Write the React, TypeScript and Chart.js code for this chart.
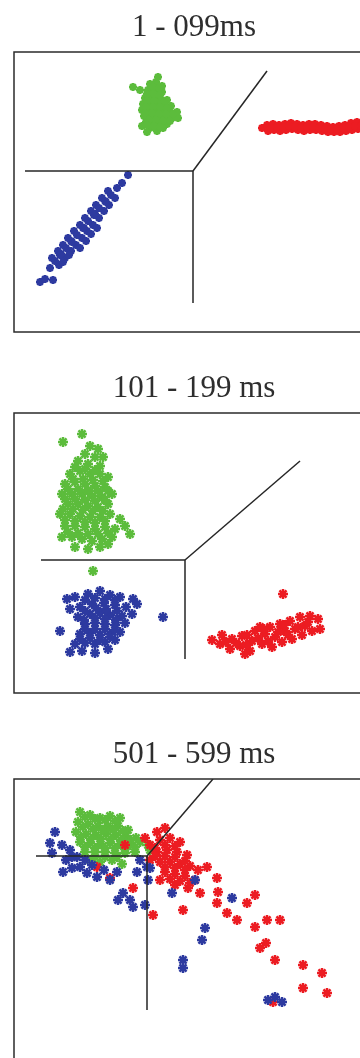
import React, { useEffect, useRef } from "react";
import { Chart, registerables } from "chart.js";

Chart.register(...registerables);

type P = [number, number];

// Panel titles (time windows)
const titles = ["1 - 099ms", "101 - 199 ms", "501 - 599 ms"];

// Shared axis ranges (feature space units)
const xRange: P = [0, 36];
const yRange: P = [0, 28];

// Class colours
const GREEN = "#5cbc3c";
const RED = "#ec1c22";
const BLUE = "#2d3aa0";
const LINE = "#262626";

// ---------- 1 - 099 ms ----------
const green1: P[] = [
  [13.6, 24.8], [14.2, 25.0], [14.8, 24.6], [13.4, 24.2], [14.1, 24.2], [14.8, 24.0], [14.4, 25.5],
  [11.9, 24.5], [12.6, 24.2], [13.1, 23.4], [13.8, 23.4], [14.6, 23.4], [15.3, 23.2], [12.9, 22.8],
  [13.6, 22.8], [14.3, 22.8], [15.0, 22.6], [15.7, 22.6], [12.8, 22.2], [13.5, 22.2], [14.2, 22.2],
  [14.9, 22.0], [15.6, 22.0], [16.3, 22.0], [13.0, 21.6], [13.7, 21.6], [14.4, 21.5], [15.1, 21.4],
  [15.8, 21.4], [16.4, 21.4], [13.2, 21.0], [13.9, 20.9], [14.6, 20.8], [15.3, 20.8], [12.8, 20.6],
  [13.6, 20.4], [14.3, 20.1], [14.9, 20.4], [14.0, 23.8], [14.7, 23.0], [13.3, 20.0],
  [13.9, 24.5], [14.5, 24.4], [13.3, 23.8], [14.6, 23.7], [13.3, 23.1], [14.0, 23.1], [15.0, 23.0],
  [13.2, 22.5], [13.9, 22.5], [14.6, 22.5], [15.3, 22.4], [13.1, 21.9], [13.8, 21.9], [14.5, 21.8],
  [15.2, 21.8], [15.9, 21.8], [13.5, 21.2], [14.2, 21.2], [14.9, 21.1], [15.6, 21.1], [13.3, 20.7],
  [14.0, 20.6], [14.6, 20.5],
];
const red1: P[] = [
  [24.8, 20.4], [25.3, 20.7], [25.4, 20.1], [25.9, 20.8], [26.0, 20.2], [26.5, 20.7], [26.6, 20.1],
  [27.1, 20.8], [27.2, 20.2], [27.7, 20.9], [27.8, 20.3], [28.3, 20.8], [28.4, 20.2], [28.9, 20.7],
  [29.0, 20.1], [29.5, 20.8], [29.6, 20.2], [30.1, 20.8], [30.2, 20.2], [30.7, 20.7], [30.8, 20.1],
  [31.3, 20.6], [31.4, 20.0], [31.9, 20.5], [32.0, 20.0], [32.5, 20.6], [32.6, 20.0], [33.1, 20.7],
  [33.2, 20.1], [33.7, 20.9], [33.8, 20.2], [34.3, 21.0], [34.4, 20.3], [34.9, 20.9], [35.0, 20.2],
  [35.5, 20.8], [35.6, 20.2],
  [25.7, 20.4], [26.3, 20.5], [26.9, 20.5], [27.5, 20.6], [28.1, 20.5], [28.7, 20.4], [29.3, 20.5],
  [29.9, 20.5], [30.5, 20.4], [31.1, 20.3], [31.7, 20.3], [32.3, 20.3], [32.9, 20.4], [33.5, 20.5],
  [34.1, 20.6], [34.7, 20.6], [35.3, 20.5], [35.9, 20.5],
];
const blue1: P[] = [
  [4.5, 6.7], [5.1, 7.4], [5.7, 8.1], [6.2, 8.7], [6.8, 9.4], [7.3, 10.1], [7.9, 10.7], [8.5, 11.4],
  [9.0, 12.1], [9.5, 12.7], [10.1, 13.4], [3.8, 7.4], [4.4, 8.1], [4.9, 8.7], [5.4, 9.4], [6.0, 10.1],
  [6.6, 10.7], [7.1, 11.4], [7.7, 12.1], [8.2, 12.7], [8.8, 13.4], [9.4, 14.1], [3.6, 6.4], [4.7, 7.8],
  [5.8, 9.0], [7.0, 10.4], [8.1, 11.8], [9.2, 13.0], [10.3, 14.4], [2.6, 5.0], [3.9, 5.2], [3.1, 5.3],
  [11.4, 15.7], [10.8, 14.9],
  [4.1, 7.1], [4.6, 7.7], [5.2, 8.4], [5.7, 9.1], [6.3, 9.7], [6.9, 10.4], [7.4, 11.1], [8.0, 11.7],
  [8.5, 12.4], [9.1, 13.1], [9.7, 13.7], [4.9, 7.0], [5.5, 7.7], [6.6, 8.4], [7.2, 9.1], [7.7, 9.8],
  [8.3, 10.4],
];
const hLine1: P[] = [[1.1, 16.1], [17.9, 16.1]];
const vLine1: P[] = [[17.9, 16.1], [17.9, 2.9]];
const dLine1: P[] = [[17.9, 16.1], [25.3, 26.1]];

// ---------- 101 - 199 ms ----------
const green2: P[] = [
  [4.9, 25.1], [6.8, 25.9], [7.6, 24.7], [8.4, 24.4], [7.1, 23.9], [8.1, 23.6], [8.9, 23.6], [6.4, 23.2],
  [7.4, 22.9], [8.6, 22.7], [5.6, 21.9], [6.6, 22.2], [7.6, 21.9], [8.6, 21.9], [9.4, 21.6], [5.1, 20.9],
  [6.1, 21.1], [7.1, 20.9], [8.1, 20.7], [9.1, 20.6], [4.8, 19.9], [5.8, 19.9], [6.8, 19.9], [7.8, 19.7],
  [8.8, 19.6], [9.8, 19.9], [5.4, 18.9], [6.4, 18.9], [7.4, 18.7], [8.4, 18.6], [9.4, 18.9], [4.6, 17.9],
  [5.6, 17.9], [6.6, 17.7], [7.6, 17.6], [8.6, 17.6], [9.6, 17.9], [10.6, 17.4], [5.1, 16.7], [6.1, 16.7],
  [7.1, 16.6], [8.1, 16.4], [9.1, 16.6], [10.1, 16.4], [11.1, 16.7], [4.8, 15.6], [5.8, 15.6], [6.8, 15.4],
  [7.8, 15.2], [8.8, 15.4], [9.8, 15.6], [6.1, 14.6], [7.4, 14.4], [8.6, 14.6], [9.4, 14.9], [11.6, 15.9],
  [7.9, 12.2],
  [6.1, 22.6], [7.1, 22.4], [8.1, 22.3], [5.9, 21.4], [6.9, 21.4], [7.9, 21.3], [8.9, 21.2], [5.4, 20.4],
  [6.4, 20.4], [7.4, 20.3], [8.4, 20.2], [9.4, 20.2], [5.1, 19.4], [6.1, 19.4], [7.1, 19.3], [8.1, 19.2],
  [9.1, 19.3], [4.9, 18.4], [5.9, 18.4], [6.9, 18.3], [7.9, 18.2], [8.9, 18.2], [5.1, 17.3], [6.1, 17.2],
  [7.1, 17.1], [8.1, 17.0], [9.1, 17.2], [5.4, 16.1], [6.4, 16.0], [7.4, 15.9], [8.4, 15.9], [9.4, 16.0],
];
const red2: P[] = [
  [19.8, 5.3], [20.6, 4.9], [20.8, 5.8], [21.6, 4.4], [21.8, 5.4], [22.6, 4.7], [22.8, 5.7], [23.6, 4.2],
  [23.8, 5.2], [24.1, 6.2], [24.8, 4.9], [25.1, 5.9], [25.6, 6.6], [25.8, 4.6], [26.1, 5.6], [26.6, 6.9],
  [26.8, 5.1], [27.1, 6.2], [27.6, 7.2], [27.8, 5.4], [28.1, 6.4], [28.6, 7.6], [28.8, 5.8], [29.1, 6.7],
  [29.6, 7.7], [29.8, 6.2], [30.4, 7.4], [30.6, 6.4], [26.9, 9.9], [24.6, 6.6], [23.1, 3.9],
  [21.2, 5.1], [22.2, 5.0], [23.2, 4.8], [24.4, 5.5], [25.4, 5.2], [26.4, 6.1], [27.4, 5.8], [28.4, 6.6],
  [29.4, 7.1], [25.0, 6.4], [27.0, 6.8], [23.3, 5.8],
];
const blue2: P[] = [
  [5.3, 9.4], [6.1, 9.6], [7.4, 9.9], [8.6, 10.2], [9.6, 9.8], [10.6, 9.6], [11.9, 9.4], [5.6, 8.4],
  [6.6, 8.6], [7.8, 8.9], [9.0, 9.0], [10.1, 8.8], [11.2, 8.6], [12.3, 8.9], [6.4, 7.6], [7.6, 7.9],
  [8.6, 8.0], [9.6, 7.8], [10.8, 7.7], [11.8, 7.9], [4.6, 6.2], [7.1, 6.9], [8.1, 7.0], [9.1, 6.9],
  [10.1, 6.8], [11.1, 7.0], [6.6, 5.9], [7.6, 6.0], [8.6, 5.8], [9.6, 5.9], [10.6, 6.1], [6.1, 4.9],
  [7.1, 5.0], [8.1, 4.9], [9.1, 5.1], [10.1, 5.3], [5.6, 4.1], [6.8, 4.2], [8.1, 4.0], [9.4, 4.4],
  [14.9, 7.6],
  [7.1, 9.3], [8.1, 9.5], [9.1, 9.4], [10.1, 9.3], [7.1, 8.2], [8.2, 8.5], [9.2, 8.4], [10.3, 8.2],
  [7.0, 7.3], [8.1, 7.5], [9.1, 7.4], [10.2, 7.3], [7.1, 6.4], [8.1, 6.4], [9.1, 6.4], [10.1, 6.3],
  [6.6, 5.4], [7.6, 5.5], [8.6, 5.3], [9.6, 5.6],
];
const hLine2: P[] = [[2.7, 13.3], [17.1, 13.3]];
const vLine2: P[] = [[17.1, 13.3], [17.1, 3.4]];
const dLine2: P[] = [[17.1, 13.3], [28.6, 23.2]];

// ---------- 501 - 599 ms ----------
const green3: P[] = [
  [6.6, 24.7], [7.6, 24.4], [8.6, 24.1], [9.6, 24.3], [10.6, 24.1], [6.4, 23.7], [7.4, 23.5], [8.4, 23.3],
  [9.4, 23.3], [10.4, 23.3], [11.4, 22.9], [6.2, 22.7], [7.2, 22.5], [8.2, 22.4], [9.2, 22.5], [10.2, 22.4],
  [11.2, 22.3], [12.2, 22.1], [6.6, 21.7], [7.6, 21.6], [8.6, 21.5], [9.6, 21.6], [10.6, 21.5], [11.6, 21.4],
  [12.6, 21.7], [13.4, 21.4], [7.1, 20.7], [8.1, 20.7], [9.1, 20.7], [10.1, 20.6], [11.1, 20.6], [12.1, 20.7],
  [7.6, 19.9], [8.6, 19.7], [9.8, 19.9], [10.8, 19.5], [13.6, 20.9],
  [7.1, 24.2], [8.1, 24.0], [9.1, 23.9], [10.1, 23.8], [6.9, 23.2], [7.9, 23.0], [8.9, 22.9], [9.9, 22.9],
  [10.9, 22.8], [6.7, 22.2], [7.7, 22.0], [8.7, 22.0], [9.7, 22.0], [10.7, 21.9], [11.7, 21.9], [7.1, 21.2],
  [8.1, 21.1], [9.1, 21.1], [10.1, 21.1], [11.1, 21.0], [12.1, 21.2], [8.1, 20.2], [9.1, 20.2], [10.3, 20.2],
];
const red3: P[] = [
  [13.6, 21.4], [14.6, 21.9], [15.6, 22.1], [16.6, 21.7], [14.3, 20.7], [15.3, 20.9], [16.3, 20.7],
  [17.3, 20.4], [13.6, 19.9], [14.6, 19.7], [15.6, 19.7], [16.6, 19.5], [17.6, 19.3], [18.4, 18.9],
  [15.1, 18.7], [16.1, 18.5], [17.1, 18.3], [18.1, 17.9], [16.1, 17.4], [17.4, 17.1], [14.6, 17.9],
  [13.1, 22.1], [14.3, 22.7], [15.1, 23.1],
  [14.1, 21.1], [15.1, 21.4], [16.1, 21.3], [14.1, 20.3], [15.1, 20.3], [16.1, 20.2], [17.1, 19.8],
  [15.1, 19.2], [16.1, 19.1], [17.1, 18.9], [15.6, 18.0], [16.6, 17.8], [17.6, 17.6],
  [19.3, 19.2], [20.3, 18.1], [20.4, 16.7], [20.3, 15.6], [21.3, 14.6], [22.3, 13.9], [16.9, 14.9],
  [13.9, 14.4], [23.3, 15.6], [24.1, 16.4], [24.1, 13.2], [25.3, 13.9], [26.6, 13.9], [24.6, 11.1],
  [25.2, 11.6], [26.1, 9.9], [28.9, 9.4], [30.8, 8.6], [28.9, 7.1], [31.3, 6.6], [25.9, 5.7], [8.3, 19.2],
  [11.1, 21.4], [11.9, 17.1], [9.6, 18.1], [18.6, 16.6],
];
const blue3: P[] = [
  [4.1, 22.7], [3.6, 21.6], [3.8, 20.6], [4.8, 21.4], [5.6, 20.9], [6.3, 20.2], [5.2, 19.9], [6.6, 19.2],
  [4.9, 18.7], [5.8, 19.1], [7.3, 18.6], [7.8, 19.4], [8.3, 18.2], [9.0, 18.9], [9.6, 17.9], [10.3, 18.7],
  [10.9, 16.6], [10.4, 15.9], [11.6, 15.9], [12.3, 18.7], [13.3, 19.2], [13.4, 17.9], [12.6, 19.9],
  [11.9, 15.2], [13.1, 15.4], [13.6, 19.1], [15.8, 16.6], [18.1, 17.9], [21.8, 16.1], [19.1, 13.1],
  [18.8, 11.9], [16.9, 9.9], [16.9, 9.1], [26.1, 6.2], [26.8, 5.7], [25.4, 5.9], [5.8, 20.2], [7.1, 19.9],
];
const hLine3: P[] = [[2.2, 20.3], [13.3, 20.3]];
const vLine3: P[] = [[13.3, 20.3], [13.3, 4.9]];
const dLine3: P[] = [[13.3, 20.3], [19.9, 28.0]];

const toPts = (arr: P[]) => arr.map(([x, y]) => ({ x, y }));

type PanelProps = {
  title: string;
  top: number;
  green: P[];
  red: P[];
  blue: P[];
  hLine: P[];
  vLine: P[];
  dLine: P[];
  radius: number;
};

// Draws the plot frame around the chart area
const framePlugin = {
  id: "frame",
  afterDatasetsDraw(chart: any) {
    const { ctx, chartArea: a } = chart;
    ctx.save();
    ctx.strokeStyle = "#2b2b2b";
    ctx.lineWidth = 1.5;
    ctx.strokeRect(a.left, a.top, a.right - a.left, a.bottom - a.top);
    ctx.restore();
  },
};

function Panel({ title, top, green, red, blue, hLine, vLine, dLine, radius }: PanelProps) {
  const ref = useRef<HTMLCanvasElement>(null);

  useEffect(() => {
    if (!ref.current) return;
    const boundary = (data: P[]) => ({
      data: toPts(data),
      showLine: true,
      borderColor: LINE,
      borderWidth: 1.5,
      pointRadius: 0,
      fill: false,
      tension: 0,
    });
    const cloud = (data: P[], color: string) => ({
      data: toPts(data),
      showLine: false,
      pointStyle: "star",
      pointRadius: radius,
      pointBorderWidth: 2.5,
      borderColor: color,
      backgroundColor: color,
    });
    const chart = new Chart(ref.current, {
      type: "scatter",
      data: {
        datasets: [
          boundary(hLine),
          boundary(vLine),
          boundary(dLine),
          cloud(blue, BLUE),
          cloud(red, RED),
          cloud(green, GREEN),
        ] as any,
      },
      options: {
        animation: false,
        responsive: false,
        events: [],
        layout: { padding: { left: 14, right: 14, top: 0, bottom: 8 } },
        plugins: {
          legend: { display: false },
          tooltip: { enabled: false },
          title: {
            display: true,
            text: title,
            color: "#2e2e2e",
            font: { family: '"Liberation Serif", "Times New Roman", serif', size: 31, weight: "normal" },
            padding: { top: 9.4, bottom: 5.4 },
          },
        },
        scales: {
          x: { type: "linear", min: xRange[0], max: xRange[1], display: false },
          y: { type: "linear", min: yRange[0], max: yRange[1], display: false },
        },
      } as any,
      plugins: [framePlugin],
    });
    return () => chart.destroy();
  }, []);

  return (
    <canvas
      ref={ref}
      width={388}
      height={340}
      style={{ position: "absolute", left: 0, top, width: 388, height: 340 }}
    />
  );
}

export default function App() {
  return (
    <div
      style={{
        position: "absolute",
        left: 0,
        top: 0,
        width: 360,
        height: 1058,
        overflow: "hidden",
        background: "#ffffff",
      }}
    >
      <Panel title={titles[0]} top={0} green={green1} red={red1} blue={blue1}
        hLine={hLine1} vLine={vLine1} dLine={dLine1} radius={4} />
      <Panel title={titles[1]} top={361} green={green2} red={red2} blue={blue2}
        hLine={hLine2} vLine={vLine2} dLine={dLine2} radius={5} />
      <Panel title={titles[2]} top={727} green={green3} red={red3} blue={blue3}
        hLine={hLine3} vLine={vLine3} dLine={dLine3} radius={5} />
    </div>
  );
}
